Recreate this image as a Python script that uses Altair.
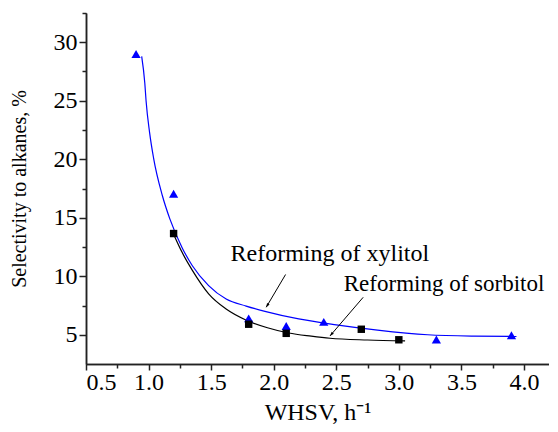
import altair as alt
import pandas as pd

xyl_x = [0.9, 1.2, 1.8, 2.1, 2.4, 3.3, 3.9]
xyl_y = [29.0, 17.05, 6.4, 5.75, 6.1, 4.6, 4.95]
sor_x = [1.2, 1.8, 2.1, 2.7, 3.0]
sor_y = [13.65, 5.9, 5.12, 5.47, 4.57]

# Fitted curves
xyl_fit_x = [0.945, 0.97, 0.98, 1.008, 1.04, 1.11, 1.17, 1.27, 1.35, 1.48, 1.62, 1.78, 1.93, 2.2, 2.5, 2.83, 3.23, 3.6, 3.94]
xyl_fit_y = [28.8, 26.5, 25.0, 22.3, 20.1, 16.9, 14.9, 12.4, 10.9, 9.2, 8.05, 7.45, 7.0, 6.35, 5.85, 5.4, 5.0, 4.88, 4.85]
sor_fit_x = [1.2, 1.27, 1.35, 1.48, 1.62, 1.79, 1.95, 2.12, 2.3, 2.45, 2.75, 3.05]
sor_fit_y = [13.6, 12.0, 10.5, 8.5, 7.2, 6.2, 5.6, 5.15, 4.88, 4.7, 4.55, 4.47]

x_major = [0.5, 1.0, 1.5, 2.0, 2.5, 3.0, 3.5, 4.0]
x_minor = [0.75, 1.25, 1.75, 2.25, 2.75, 3.25, 3.75]
y_major = [5, 10, 15, 20, 25, 30]
y_minor = [7.5, 12.5, 17.5, 22.5, 27.5, 32.5]

labels = ["Reforming of xylitol", "Reforming of sorbitol"]
label_size = [24, 23]
label_x = [1.655, 2.56]
label_y = [11.3, 8.75]
arrow_x = [2.095, 2.715]
arrow_y = [10.15, 8.2]
arrow_x2 = [1.94, 2.45]
arrow_y2 = [7.35, 4.9]
arrow_angle = [211, 221]

FONT = "Liberation Serif"
xs = alt.Scale(domain=[0.5, 4.2], nice=False, zero=False)
ys = alt.Scale(domain=[2.5, 32.5], nice=False, zero=False)

df_xyl = pd.DataFrame({"x": xyl_x, "y": xyl_y})
df_sor = pd.DataFrame({"x": sor_x, "y": sor_y})
df_xfit = pd.DataFrame({"x": xyl_fit_x, "y": xyl_fit_y})
df_sfit = pd.DataFrame({"x": sor_fit_x, "y": sor_fit_y})
df_lab = pd.DataFrame({"t": labels, "x": label_x, "y": label_y, "s": label_size})
df_arr = pd.DataFrame({"x": arrow_x, "y": arrow_y, "x2": arrow_x2, "y2": arrow_y2, "a": arrow_angle})

ax_common = dict(domainColor="#222", domainWidth=1.5, tickColor="#222", tickWidth=1.5,
                 labelFont=FONT, labelColor="black", titleFont=FONT, titleColor="black",
                 titleFontWeight="normal", grid=False)

major_x_axis = alt.Axis(values=x_major, format=".1f", tickSize=6, labelFontSize=24,
                        labelPadding=0, title="WHSV, h\u207b\u00b9", titleFontSize=24,
                        titlePadding=6, orient="bottom", **ax_common)
major_y_axis = alt.Axis(values=y_major, format="d", tickSize=7, labelFontSize=24,
                        labelPadding=2, title="Selectivity to alkanes, %", titleFontSize=20,
                        titlePadding=24, orient="left", **ax_common)
minor_x_axis = alt.Axis(values=x_minor, tickSize=4, labels=False, title=None, orient="bottom", **ax_common)
minor_y_axis = alt.Axis(values=y_minor, tickSize=4, labels=False, title=None, orient="left", **ax_common)

axes_major = alt.Chart(df_xyl).mark_point(opacity=0).encode(
    x=alt.X("x:Q", scale=xs, axis=major_x_axis),
    y=alt.Y("y:Q", scale=ys, axis=major_y_axis),
)
axes_minor = alt.Chart(df_xyl).mark_point(opacity=0).encode(
    x=alt.X("x:Q", scale=xs, axis=minor_x_axis),
    y=alt.Y("y:Q", scale=ys, axis=minor_y_axis),
)

def enc(ch):
    return ch.encode(x=alt.X("x:Q", scale=xs, axis=None), y=alt.Y("y:Q", scale=ys, axis=None))

xfit = enc(alt.Chart(df_xfit).mark_line(color="#0000ff", strokeWidth=1.2, interpolate="monotone"))
sfit = enc(alt.Chart(df_sfit).mark_line(color="black", strokeWidth=1.2, interpolate="monotone"))
xpts = enc(alt.Chart(df_xyl).mark_point(shape="triangle-up", filled=True, color="#0000ff", size=85, opacity=1))
spts = enc(alt.Chart(df_sor).mark_point(shape="square", filled=True, color="black", size=55, opacity=1))

txt = enc(alt.Chart(df_lab).mark_text(font=FONT, align="left", baseline="alphabetic",
                                      color="black").encode(text="t:N",
                                                            size=alt.Size("s:Q", scale=None, legend=None)))
arr = alt.Chart(df_arr).mark_rule(color="black", strokeWidth=1).encode(
    x=alt.X("x:Q", scale=xs, axis=None), y=alt.Y("y:Q", scale=ys, axis=None),
    x2="x2:Q", y2="y2:Q")
head = alt.Chart(df_arr).mark_point(shape="M0,0L-0.35,1L0.35,1Z", filled=True, color="black",
                                    size=70, opacity=1).encode(
    x=alt.X("x2:Q", scale=xs, axis=None), y=alt.Y("y2:Q", scale=ys, axis=None),
    angle=alt.Angle("a:Q", scale=None))

chart = alt.layer(axes_major, axes_minor, xfit, sfit, xpts, spts, arr, head, txt).resolve_axis(
    x="independent", y="independent"
).properties(
    width=463, height=351,
    autosize=alt.AutoSizeParams(type="none"),
    padding={"left": 78, "top": 5, "right": 0, "bottom": 60},
).configure(background="white", font=FONT).configure_view(stroke=None)

chart.save("out.html", embed_options={"renderer": "svg", "actions": False})
